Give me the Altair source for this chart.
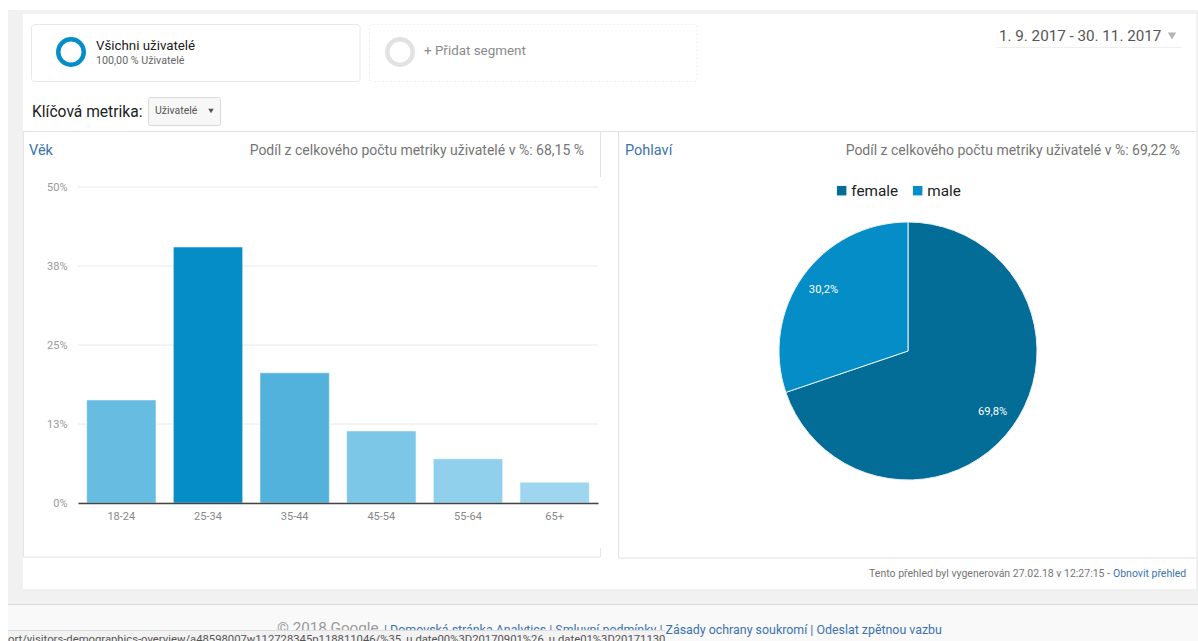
import altair as alt
import pandas as pd

# Age distribution (share of users, %)
age_groups = ["18-24", "25-34", "35-44", "45-54", "55-64", "65+"]
age_shares = [16.3, 40.5, 20.6, 11.4, 7.0, 3.3]
age_colors = ["#66bde1", "#058dc7", "#53b2dc", "#7cc7e7", "#90d0ed", "#9ed6f0"]
age_ticks = [0, 12.5, 25, 37.5, 50]

# Gender split (%)
genders = ["female", "male"]
gender_shares = [69.8, 30.2]
gender_colors = ["#036c97", "#058dc7"]

FONT = "Roboto"
GREY = "#757575"
LINK = "#3b73af"

ages = pd.DataFrame({"age": age_groups, "share": age_shares})
ticks = pd.DataFrame({"tick": age_ticks})
sexes = pd.DataFrame({
    "gender": genders,
    "share": gender_shares,
    "label": [f"{v:.1f}%".replace(".", ",") for v in gender_shares],
})


def box(x, x2, y, y2, fill="#ffffff", stroke=None, **kw):
    opts = dict(fill=fill, **kw)
    if stroke:
        opts.update(stroke=stroke, strokeWidth=1)
    return alt.Chart(pd.DataFrame({"k": [0]})).mark_rect(**opts).encode(
        x=alt.value(x), x2=alt.value(x2), y=alt.value(y), y2=alt.value(y2)
    )


def label(text, x, y, size=12, color=GREY, align="left"):
    return alt.Chart(pd.DataFrame({"t": [text]})).mark_text(
        font=FONT, fontSize=size, color=color, align=align, baseline="middle"
    ).encode(x=alt.value(x), y=alt.value(y), text="t:N")


def ring(cx, cy, color):
    return alt.Chart(pd.DataFrame({"k": [0]})).mark_arc(
        outerRadius=15, innerRadius=10.5, theta=0, theta2=6.2832, fill=color
    ).encode(x=alt.value(cx), y=alt.value(cy))


# Page frame
page = [
    box(8, 1198, 10, 604, fill="#f1f1f1"),
    box(8, 1198, 604, 605, fill="#dcdcdc"),
    box(8, 1198, 605, 641, fill="#f9f9f9"),
    box(23, 1196, 14, 589),
    box(31.5, 360, 24.5, 81.5, stroke="#e8e8e8", cornerRadius=3),
    box(369.5, 697, 24.5, 81.5, stroke="#eeeeee", strokeDash=[2, 2], cornerRadius=3),
    box(148.5, 220.5, 97.5, 125.5, fill="#f7f7f7", stroke="#d8d8d8", cornerRadius=2),
    box(23, 1196, 131, 132, fill="#e2e2e2"),
    box(600, 601, 131, 177, fill="#e2e2e2"),
    box(23, 24, 131, 557, fill="#e6e6e6"),
    box(23, 600, 556.5, 557.5, fill="#e6e6e6"),
    box(600, 601, 548, 557, fill="#e6e6e6"),
    box(618, 619, 131, 558, fill="#e2e2e2"),
    box(618, 1196, 557.5, 558.5, fill="#e2e2e2"),
    box(996, 1181, 47, 48, fill="#eeeeee"),
]

# Header and footer text
captions = [
    ring(71, 52, "#058dc7"),
    ring(400, 52, "#e2e2e2"),
    label("Všichni uživatelé", 96, 46, 13.3, "#212121"),
    label("100,00 % Uživatelé", 96, 61, 10.7, "#666666"),
    label("+ Přidat segment", 424, 51, 13.4, "#8a8a8a"),
    label("1. 9. 2017 - 30. 11. 2017", 999, 36, 15.2, "#555555"),
    alt.Chart(pd.DataFrame({"k": [0]})).mark_point(
        shape="triangle-down", size=70, fill="#b5b5b5", stroke=None, opacity=1
    ).encode(x=alt.value(1172), y=alt.value(36)),
    label("Klíčová metrika:", 32, 112, 15.6, "#212121"),
    label("Uživatelé", 155, 111, 10.5, "#555555"),
    alt.Chart(pd.DataFrame({"k": [0]})).mark_point(
        shape="triangle-down", size=30, fill="#555555", stroke=None, opacity=1
    ).encode(x=alt.value(211), y=alt.value(111)),
    label("Věk", 29, 151, 14.5, LINK),
    label("Podíl z celkového počtu metriky uživatelé v %: 68,15 %", 584, 151, 14, GREY, "right"),
    label("Pohlaví", 625, 151, 14.5, LINK),
    label("Podíl z celkového počtu metriky uživatelé v %: 69,22 %", 1180, 151, 14, GREY, "right"),
    label("Tento přehled byl vygenerován 27.02.18 v 12:27:15 -", 1110, 574, 10.5, GREY, "right"),
    label("Obnovit přehled", 1113, 574, 10.5, LINK),
    label("© 2018 Google", 277, 628, 15.2, "#9a9a9a"),
    label("| Domovská stránka Analytics | Smluvní podmínky | Zásady ochrany soukromí | Odeslat zpětnou vazbu", 384, 630, 12.4, LINK),
    box(8, 665, 630, 641, fill="#f2f2f2"),
    box(8, 665, 630, 631, fill="#dddddd"),
    label("ort/visitors-demographics-overview/a48598007w112728345p118811046/%35_u.date00%3D20170901%26_u.date01%3D20171130",
          8, 640, 11.27, "#555555"),
]

# Age bar chart
x_scale = alt.Scale(domain=age_groups, range=[78, 598], paddingInner=0.2, paddingOuter=0.1)
y_scale = alt.Scale(domain=[0, 50], range=[503, 187])
y_axis = alt.Axis(
    orient="left", offset=-75, values=age_ticks, labelExpr="round(datum.value) + '%'", ticks=False,
    domain=False, grid=False, labelColor="#999999", labelFont=FONT, labelFontSize=11, labelPadding=8, zindex=1,
)

grid = alt.Chart(ticks).mark_rule(color="#e8e8e8", strokeWidth=1).encode(
    x=alt.value(78), x2=alt.value(598),
    y=alt.Y("tick:Q", scale=y_scale, title=None, axis=y_axis),
)
bars = alt.Chart(ages).mark_bar(stroke="#ffffff", strokeOpacity=0.5, strokeWidth=1).encode(
    x=alt.X("age:N", scale=x_scale, sort=age_groups, title=None, axis=alt.Axis(
        orient="bottom", offset=-138, labelAngle=0, ticks=False, grid=False, domainColor="#444444",
        domainWidth=1.5, labelColor="#888888", labelFont=FONT, labelFontSize=11, labelPadding=7, zindex=1,
    )),
    y=alt.Y("share:Q", scale=y_scale, title=None, axis=y_axis),
    color=alt.Color("age:N", scale=alt.Scale(domain=age_groups, range=age_colors), legend=None),
)
age_chart = alt.layer(grid, bars)

# Gender pie chart
theta = alt.Theta("share:Q", stack=True, scale=alt.Scale(range=[0, 6.2832]))
slices = alt.Chart(sexes).mark_arc(outerRadius=129, stroke="#e8f0f5", strokeWidth=1).encode(
    x=alt.value(908), y=alt.value(351),
    theta=theta,
    order=alt.Order("gender:N"),
    color=alt.Color("gender:N", scale=alt.Scale(domain=genders, range=gender_colors), legend=alt.Legend(
        orient="none", legendX=834, legendY=183, direction="horizontal", columns=2, title=None,
        symbolType="square", symbolSize=90, symbolStrokeWidth=0, labelFont=FONT, labelFontSize=15.3,
        labelColor="#212121", columnPadding=11, labelOffset=2, symbolOffset=0,
    )),
)
slice_labels = alt.Chart(sexes).mark_text(
    radius=104, font=FONT, fontSize=11.2, color="#ffffff"
).encode(
    x=alt.value(908), y=alt.value(351),
    theta=theta,
    order=alt.Order("gender:N"),
    detail="gender:N",
    text="label:N",
)
pie_chart = alt.layer(slices, slice_labels)

chart = alt.layer(*page, *captions, age_chart, pie_chart).resolve_scale(
    x="independent", y="independent", color="independent", theta="independent"
).properties(
    width=1198, height=641, padding=0,
    autosize=alt.AutoSizeParams(type="none"), background="#ffffff",
).configure_view(stroke=None)

chart.save("out.html", embed_options={"renderer": "svg", "actions": False})
